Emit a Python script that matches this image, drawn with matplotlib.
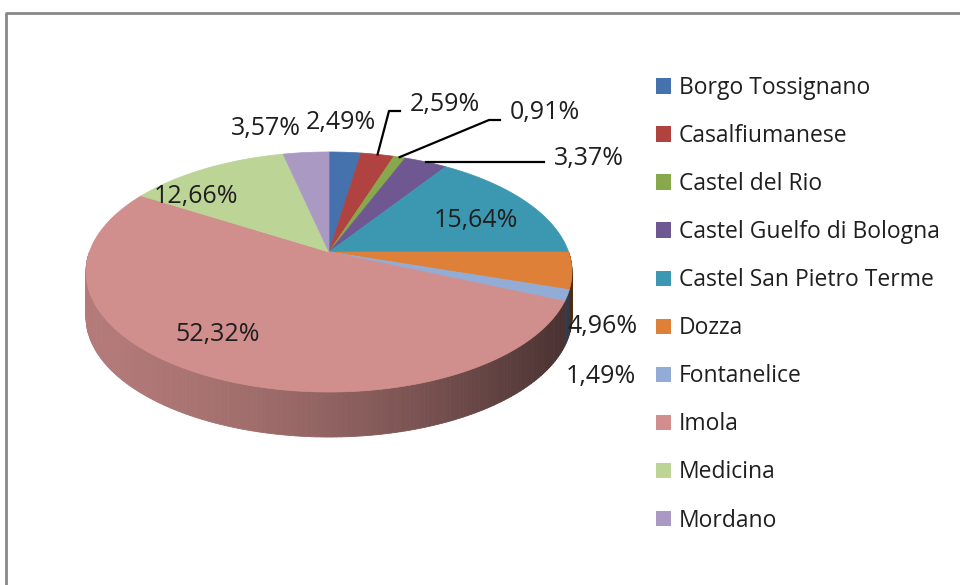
import numpy as np
import matplotlib
matplotlib.use('Agg')
import matplotlib.pyplot as plt
from matplotlib.patches import Polygon, Patch
from matplotlib.colors import to_rgb

plt.rcParams['font.family'] = ['Open Sans', 'DejaVu Sans']

# data
comuni = ['Borgo Tossignano', 'Casalfiumanese', 'Castel del Rio',
          'Castel Guelfo di Bologna', 'Castel San Pietro Terme', 'Dozza',
          'Fontanelice', 'Imola', 'Medicina', 'Mordano']
quote = [2.49, 2.59, 0.91, 3.37, 15.64, 4.96, 1.49, 52.32, 12.66, 3.57]
colori = ['#4571ad', '#b0433f', '#88a84c', '#6f5892', '#3c97b0',
          '#df8038', '#93acd6', '#d08e8c', '#bdd497', '#a999c3']

# layout (pixels)
CX, CY = 329, 252          # apex of pie
R, A = 239.6, 116.7        # radius and vertical radius
K = 1 / 6                  # perspective strength
DEPTH = 45
pos_etichette = [(341, 122), (445, 104), (545, 113), (589, 158), (476, 221),
                 (603, 326), (601, 377), (218, 334), (196, 196), (266, 128)]
con_linea = [False, True, True, True, False, False, False, False, False, False]


def proj(phi, r=1.0):
    u = r * np.sin(phi)
    v = -r * np.cos(phi)
    s = 1 / (1 - K * v)
    return CX + R * u * s, CY + A * v * s


def shade(x):
    t = np.clip((x - (CX - R)) / (2 * R), 0, 1)
    return 0.86 - 0.15 * t - 0.37 * t ** 2


fig = plt.figure(figsize=(9.6, 5.85), dpi=100)
ax = fig.add_axes([0, 0, 1, 1])
ax.set_xlim(0, 960)
ax.set_ylim(585, 0)
ax.axis('off')

# chart border (top and left edges visible)
ax.plot([6, 6, 960], [585, 13, 13], color='#878787', lw=2, solid_capstyle='butt')

bordi = np.concatenate([[0], np.cumsum(quote)]) / sum(quote) * 2 * np.pi

# side of the cylinder (front half only)
for i, col in enumerate(colori):
    a0 = max(bordi[i], np.pi / 2)
    a1 = min(bordi[i + 1], 3 * np.pi / 2)
    if a1 <= a0:
        continue
    n = max(2, int(np.degrees(a1 - a0)) + 1)
    ang = np.linspace(a0, a1, n)
    base = np.array(to_rgb(col))
    for p0, p1 in zip(ang[:-1], ang[1:]):
        x0, y0 = proj(p0)
        x1, y1 = proj(p1)
        c = base * shade((x0 + x1) / 2)
        ax.add_patch(Polygon([(x0, y0), (x1, y1), (x1, y1 + DEPTH), (x0, y0 + DEPTH)],
                             closed=True, facecolor=c, edgecolor=c, lw=0.6))

# top face
for i, col in enumerate(colori):
    ang = np.linspace(bordi[i], bordi[i + 1], max(3, int(np.degrees(bordi[i + 1] - bordi[i])) + 2))
    xs, ys = proj(ang)
    pts = [(CX, CY)] + list(zip(xs, ys))
    ax.add_patch(Polygon(pts, closed=True, facecolor=col, edgecolor=col, lw=0.5))

# data labels
for i, q in enumerate(quote):
    testo = f'{q:.2f}'.replace('.', ',') + '%'
    lx, ly = pos_etichette[i]
    ax.text(lx, ly, testo, ha='center', va='center', fontsize=18, color='#1f1f1f')
    if con_linea[i]:
        mid = (bordi[i] + bordi[i + 1]) / 2
        rx, ry = proj(mid)
        ly2 = ly + 7 if ly + 7 < ry - 3 else ry
        xl = lx - 45
        ax.plot([rx, xl - 11, xl], [ry, ly2, ly2], color='black', lw=1.6)

handles = [Patch(facecolor=c, edgecolor='none') for c in colori]
ax.legend(handles, comuni, loc='upper left', bbox_to_anchor=(656, 76),
          bbox_transform=ax.transData, frameon=False, fontsize=16.5,
          handlelength=0.65, handleheight=0.65, handletextpad=0.35,
          labelspacing=1.05, borderpad=0, borderaxespad=0, labelcolor='#1f1f1f')

fig.savefig('out.png', dpi=100)
